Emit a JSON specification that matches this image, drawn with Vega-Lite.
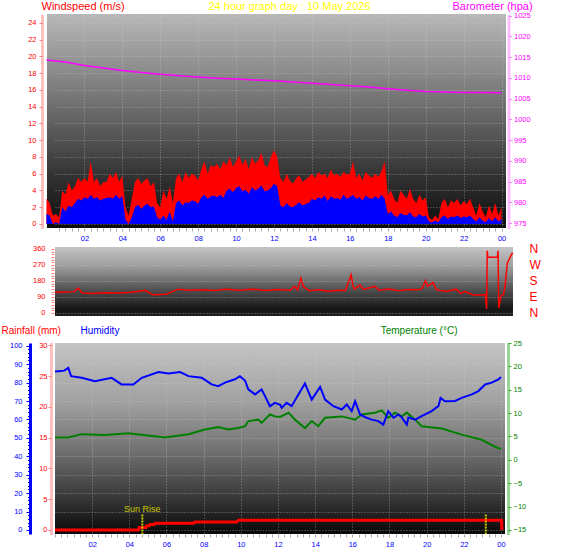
{
"$schema":"https://vega.github.io/schema/vega-lite/v6.json",
"background":"#ffffff",
"padding":{"left":1,"top":0,"right":4,"bottom":4},
"config":{"view":{"stroke":null},"font":"Liberation Sans","axis":{"labelFont":"Liberation Sans","titleFont":"Liberation Sans","labelOverlap":false,"labelFlush":false,"labelBound":false,"titleFontWeight":"normal","titleAngle":0,"titleBaseline":"alphabetic","titleAlign":"left","labelFontSize":7.5}},
"datasets":{
"wind":[{"m":0,"g":3,"a":1.2},{"m":10,"g":2.5,"a":1},{"m":20,"g":1,"a":0},{"m":30,"g":1.2,"a":0.2},{"m":40,"g":0.8,"a":0},{"m":50,"g":4,"a":2},{"m":60,"g":3.5,"a":1.5},{"m":70,"g":5,"a":2.2},{"m":80,"g":4,"a":2},{"m":90,"g":4.5,"a":2.5},{"m":100,"g":5.5,"a":3},{"m":110,"g":5,"a":2.8},{"m":120,"g":5.5,"a":3.2},{"m":130,"g":5,"a":3},{"m":140,"g":7.5,"a":3.5},{"m":150,"g":5,"a":3},{"m":160,"g":5.5,"a":3.2},{"m":170,"g":4.5,"a":2.8},{"m":180,"g":5,"a":3},{"m":190,"g":5,"a":3.1},{"m":200,"g":6,"a":3.2},{"m":210,"g":5.5,"a":3},{"m":220,"g":6.2,"a":3.5},{"m":230,"g":5,"a":3},{"m":240,"g":5.8,"a":3.3},{"m":250,"g":2,"a":0.5},{"m":260,"g":1,"a":0},{"m":270,"g":3,"a":0.8},{"m":280,"g":5,"a":2},{"m":290,"g":5.5,"a":2.3},{"m":300,"g":4.8,"a":1.8},{"m":310,"g":5.2,"a":2.2},{"m":320,"g":5.5,"a":2.4},{"m":330,"g":4.5,"a":2},{"m":340,"g":5,"a":2.1},{"m":350,"g":2.5,"a":0.8},{"m":360,"g":2,"a":0.5},{"m":370,"g":4,"a":1},{"m":380,"g":3,"a":0.5},{"m":390,"g":4.5,"a":1.5},{"m":400,"g":2.5,"a":0.3},{"m":410,"g":5.5,"a":2.5},{"m":420,"g":6,"a":2.8},{"m":430,"g":5,"a":2.2},{"m":440,"g":6.2,"a":2.6},{"m":450,"g":5.5,"a":2.5},{"m":460,"g":6,"a":2.8},{"m":470,"g":5.8,"a":2.7},{"m":480,"g":5.2,"a":2.4},{"m":490,"g":6.5,"a":3.2},{"m":500,"g":7.5,"a":3.5},{"m":510,"g":6,"a":3},{"m":520,"g":7,"a":3.3},{"m":530,"g":6.8,"a":3.4},{"m":540,"g":7.2,"a":3.2},{"m":550,"g":6.5,"a":3.5},{"m":560,"g":7.5,"a":3.1},{"m":570,"g":7,"a":4},{"m":580,"g":8,"a":4.2},{"m":590,"g":6.8,"a":3.8},{"m":600,"g":7.5,"a":4.3},{"m":610,"g":8.2,"a":4.5},{"m":620,"g":7,"a":3.9},{"m":630,"g":7.8,"a":4.1},{"m":640,"g":6.5,"a":3.6},{"m":650,"g":8,"a":4.4},{"m":660,"g":7.2,"a":4},{"m":670,"g":7.6,"a":4.2},{"m":680,"g":8.5,"a":4.6},{"m":690,"g":7,"a":3.9},{"m":700,"g":6.8,"a":4},{"m":710,"g":8,"a":4.3},{"m":720,"g":8.8,"a":4.8},{"m":730,"g":8,"a":4.5},{"m":740,"g":5.5,"a":2.2},{"m":750,"g":5,"a":2},{"m":760,"g":6,"a":2.5},{"m":770,"g":5.2,"a":2.1},{"m":780,"g":4.8,"a":2},{"m":790,"g":5.5,"a":2.3},{"m":800,"g":5.8,"a":2.6},{"m":810,"g":5,"a":2.2},{"m":820,"g":5.3,"a":2.4},{"m":830,"g":5.6,"a":2.5},{"m":840,"g":6,"a":3},{"m":850,"g":5.5,"a":2.8},{"m":860,"g":6.2,"a":3.2},{"m":870,"g":5.8,"a":3},{"m":880,"g":6,"a":3.4},{"m":890,"g":5.5,"a":2.7},{"m":900,"g":6.5,"a":3.3},{"m":910,"g":5.8,"a":3},{"m":920,"g":6,"a":3.1},{"m":930,"g":5.6,"a":2.9},{"m":940,"g":6.2,"a":3.5},{"m":950,"g":5.9,"a":3},{"m":960,"g":6,"a":3.2},{"m":970,"g":7.5,"a":3.5},{"m":980,"g":5.5,"a":3},{"m":990,"g":6,"a":3.2},{"m":1000,"g":5.2,"a":2.8},{"m":1010,"g":6.2,"a":3.4},{"m":1020,"g":5.8,"a":3.1},{"m":1030,"g":5.5,"a":3},{"m":1040,"g":6,"a":3.3},{"m":1050,"g":5.6,"a":3},{"m":1060,"g":6.3,"a":3.5},{"m":1070,"g":7.5,"a":3},{"m":1080,"g":3.5,"a":1.2},{"m":1090,"g":4,"a":1.5},{"m":1100,"g":3,"a":1},{"m":1110,"g":2.5,"a":0.8},{"m":1120,"g":4,"a":1.3},{"m":1130,"g":3.5,"a":1.1},{"m":1140,"g":3,"a":1},{"m":1150,"g":4.2,"a":1.4},{"m":1160,"g":3,"a":0.9},{"m":1170,"g":2.5,"a":0.8},{"m":1180,"g":3.5,"a":1.2},{"m":1190,"g":2.8,"a":0.9},{"m":1200,"g":3.2,"a":1},{"m":1210,"g":0.8,"a":0.3},{"m":1220,"g":0.5,"a":0.2},{"m":1230,"g":1,"a":0.4},{"m":1240,"g":0.6,"a":0.2},{"m":1250,"g":2.5,"a":0.8},{"m":1260,"g":3,"a":1},{"m":1270,"g":2,"a":0.6},{"m":1280,"g":2.8,"a":0.9},{"m":1290,"g":2.5,"a":0.8},{"m":1300,"g":3,"a":1},{"m":1310,"g":2.2,"a":0.7},{"m":1320,"g":2.7,"a":0.9},{"m":1330,"g":2.4,"a":0.8},{"m":1340,"g":3,"a":1},{"m":1350,"g":2,"a":0.6},{"m":1360,"g":1,"a":0.3},{"m":1370,"g":2.5,"a":0.8},{"m":1380,"g":1.5,"a":0.4},{"m":1390,"g":0.8,"a":0.2},{"m":1400,"g":2.2,"a":0.7},{"m":1410,"g":1.2,"a":0.3},{"m":1420,"g":2.5,"a":0.8},{"m":1430,"g":1,"a":0.3},{"m":1440,"g":2,"a":0.6}],
"baro":[{"m":0,"p":1014.3},{"m":60,"p":1013.8},{"m":120,"p":1013.0},{"m":180,"p":1012.4},{"m":240,"p":1011.8},{"m":300,"p":1011.3},{"m":360,"p":1010.9},{"m":420,"p":1010.5},{"m":480,"p":1010.2},{"m":540,"p":1009.9},{"m":600,"p":1009.7},{"m":660,"p":1009.5},{"m":720,"p":1009.3},{"m":780,"p":1009.0},{"m":840,"p":1008.7},{"m":900,"p":1008.4},{"m":960,"p":1008.1},{"m":1020,"p":1007.8},{"m":1080,"p":1007.4},{"m":1140,"p":1007.0},{"m":1200,"p":1006.7},{"m":1260,"p":1006.6},{"m":1320,"p":1006.5},{"m":1380,"p":1006.5},{"m":1440,"p":1006.4}],
"dir":[{"m":0,"d":116},{"m":30,"d":118},{"m":60,"d":120},{"m":73,"d":140},{"m":85,"d":112},{"m":120,"d":110},{"m":160,"d":114},{"m":200,"d":112},{"m":240,"d":116},{"m":284,"d":127},{"m":300,"d":110},{"m":307,"d":103},{"m":350,"d":105},{"m":387,"d":134},{"m":420,"d":128},{"m":467,"d":130},{"m":500,"d":126},{"m":540,"d":133},{"m":580,"d":128},{"m":620,"d":134},{"m":660,"d":126},{"m":700,"d":132},{"m":740,"d":128},{"m":753,"d":150},{"m":763,"d":130},{"m":773,"d":196},{"m":780,"d":150},{"m":787,"d":140},{"m":800,"d":125},{"m":830,"d":130},{"m":860,"d":122},{"m":890,"d":128},{"m":913,"d":127},{"m":931,"d":214},{"m":937,"d":150},{"m":942,"d":134},{"m":959,"d":158},{"m":970,"d":132},{"m":1005,"d":150},{"m":1020,"d":128},{"m":1050,"d":135},{"m":1080,"d":125},{"m":1110,"d":132},{"m":1142,"d":130},{"m":1155,"d":140},{"m":1165,"d":183},{"m":1172,"d":150},{"m":1188,"d":172},{"m":1200,"d":130},{"m":1230,"d":121},{"m":1262,"d":134},{"m":1275,"d":110},{"m":1290,"d":120},{"m":1313,"d":103},{"m":1340,"d":100},{"m":1353,"d":105},{"m":1357,"d":22},{"m":1359,"d":350},{"m":1361,"d":313},{"m":1391,"d":313},{"m":1393,"d":350},{"m":1395,"d":28},{"m":1402,"d":95},{"m":1410,"d":105},{"m":1415,"d":150},{"m":1422,"d":280},{"m":1437,"d":335},{"m":1440,"d":333}],
"rain":[{"m":0,"r":0},{"m":269,"r":0},{"m":272,"r":0.4},{"m":294,"r":0.4},{"m":296,"r":0.7},{"m":305,"r":0.7},{"m":307,"r":0.9},{"m":321,"r":0.9},{"m":323,"r":1.1},{"m":447,"r":1.1},{"m":452,"r":1.3},{"m":587,"r":1.3},{"m":592,"r":1.6},{"m":1442,"r":1.6},{"m":1443,"r":0}],
"hum":[{"m":0,"h":86},{"m":11,"h":86.2},{"m":30,"h":86.5},{"m":43,"h":88},{"m":52,"h":83.5},{"m":86,"h":82.6},{"m":129,"h":80.8},{"m":183,"h":82.6},{"m":215,"h":79},{"m":253,"h":79},{"m":280,"h":82.6},{"m":334,"h":85.7},{"m":366,"h":84.9},{"m":404,"h":85.7},{"m":431,"h":83.5},{"m":474,"h":82.6},{"m":506,"h":79},{"m":527,"h":78.1},{"m":549,"h":80},{"m":581,"h":81.8},{"m":597,"h":83.5},{"m":614,"h":81},{"m":624,"h":76.3},{"m":646,"h":73.6},{"m":667,"h":76.3},{"m":678,"h":72.7},{"m":694,"h":67.2},{"m":710,"h":69},{"m":727,"h":68},{"m":732,"h":66.3},{"m":748,"h":69},{"m":764,"h":67.2},{"m":786,"h":73.6},{"m":807,"h":79.5},{"m":829,"h":70.8},{"m":856,"h":77.7},{"m":872,"h":70.8},{"m":899,"h":67.2},{"m":926,"h":65.4},{"m":942,"h":68.1},{"m":958,"h":64.5},{"m":969,"h":69.9},{"m":985,"h":62.7},{"m":1006,"h":60.9},{"m":1023,"h":59.9},{"m":1044,"h":59.1},{"m":1060,"h":57.2},{"m":1076,"h":64.5},{"m":1093,"h":60.9},{"m":1109,"h":62.7},{"m":1120,"h":61},{"m":1136,"h":57.2},{"m":1141,"h":61},{"m":1163,"h":59.9},{"m":1184,"h":61.8},{"m":1216,"h":64.5},{"m":1238,"h":67.2},{"m":1245,"h":71.7},{"m":1259,"h":69.9},{"m":1292,"h":70},{"m":1313,"h":71.7},{"m":1346,"h":73.6},{"m":1367,"h":75.4},{"m":1389,"h":79},{"m":1410,"h":80},{"m":1432,"h":81.7},{"m":1440,"h":83}],
"temp":[{"m":0,"t":4.8},{"m":43,"t":4.8},{"m":86,"t":5.5},{"m":161,"t":5.3},{"m":237,"t":5.7},{"m":355,"t":4.8},{"m":431,"t":5.5},{"m":484,"t":6.5},{"m":527,"t":7},{"m":560,"t":6.5},{"m":592,"t":6.8},{"m":614,"t":7.2},{"m":624,"t":8.3},{"m":657,"t":8.6},{"m":667,"t":7.9},{"m":694,"t":9.7},{"m":710,"t":9.3},{"m":727,"t":9.2},{"m":754,"t":10.1},{"m":775,"t":8.6},{"m":807,"t":6.8},{"m":829,"t":8.3},{"m":850,"t":7.2},{"m":872,"t":9},{"m":926,"t":9.3},{"m":969,"t":8.6},{"m":990,"t":9.7},{"m":1033,"t":10.1},{"m":1055,"t":10.6},{"m":1076,"t":9},{"m":1098,"t":10.1},{"m":1120,"t":9.3},{"m":1136,"t":10.1},{"m":1163,"t":8.6},{"m":1184,"t":7.2},{"m":1249,"t":6.7},{"m":1313,"t":5.4},{"m":1378,"t":4.3},{"m":1421,"t":2.8},{"m":1440,"t":2.3}],
"sun":[{"m":282,"label":"Sun Rise"},{"m":1391,"label":""}]
},
"vconcat":[
{
"width":451,"height":214,
"view":{"fill":{"gradient":"linear","x1":0,"y1":0,"x2":0,"y2":1,"stops":[{"offset":0,"color":"#b8b8b8"},{"offset":0.25,"color":"#8e8e8e"},{"offset":0.5,"color":"#626262"},{"offset":0.75,"color":"#343434"},{"offset":1,"color":"#0c0c0c"}]},"stroke":null},
"layer":[
{"layer":[
{"data":{"values":[{"part":"edge"}]},
"mark":{"type":"rect","fill":{"gradient":"linear","x1":0,"y1":0,"x2":0,"y2":1,"stops":[{"offset":0,"color":"#b8b8b8"},{"offset":0.25,"color":"#8e8e8e"},{"offset":0.5,"color":"#626262"},{"offset":0.75,"color":"#343434"},{"offset":1,"color":"#0c0c0c"}]}},
"encoding":{"x":{"datum":1.6,"type":"quantitative","scale":{"domain":[27,1454],"nice":false,"zero":false},"axis":null},"x2":{"datum":27},"y":{"datum":-0.48,"type":"quantitative","scale":{"domain":[-0.48,25.07],"nice":false,"zero":false},"axis":null},"y2":{"datum":25.07}}},
{"data":{"name":"wind"},
"mark":{"type":"area","color":"#ff0000","interpolate":"linear"},
"encoding":{
"x":{"field":"m","type":"quantitative","scale":{"domain":[27,1454],"nice":false,"zero":false},
"axis":{"orient":"bottom","values":[0,20,40,60,80,100,120,140,160,180,200,220,240,260,280,300,320,340,360,380,400,420,440,460,480,500,520,540,560,580,600,620,640,660,680,700,720,740,760,780,800,820,840,860,880,900,920,940,960,980,1000,1020,1040,1060,1080,1100,1120,1140,1160,1180,1200,1220,1240,1260,1280,1300,1320,1340,1360,1380,1400,1420,1440],"labelExpr":"datum.value % 120 == 0 && datum.value > 0 ? format((datum.value/60) % 24, '02d') : ''","labelOverlap":false,"title":null,"grid":false,"domain":false,"tickColor":"#a8a8a8","tickSize":3,"labelColor":"#0000ff","labelPadding":3}},
"y":{"field":"g","type":"quantitative","scale":{"domain":[-0.48,25.07],"nice":false,"zero":false},
"axis":{"orient":"left","values":[0,2,4,6,8,10,12,14,16,18,20,22,24],"labelOverlap":false,"offset":13,"title":"Windspeed (m/s)","titleColor":"#ff0000","titleFontSize":11,"titleX":-1,"titleY":-4.5,"labelColor":"#ff0000","labelPadding":3,"tickColor":"#ff8080","tickSize":3,"domainColor":"#ff8080","domainWidth":3,"domainDash":[1,1],"grid":true,"gridColor":"#d0d0d0","gridDash":[1,2],"gridOpacity":0.5}}}},
{"data":{"name":"wind"},
"mark":{"type":"area","color":"#0000ff","interpolate":"linear"},
"encoding":{
"x":{"field":"m","type":"quantitative","scale":{"domain":[27,1454],"nice":false,"zero":false},"axis":null},
"y":{"field":"a","type":"quantitative","scale":{"domain":[-0.48,25.07],"nice":false,"zero":false},"axis":null}}}
],
"resolve":{"axis":{"x":"independent","y":"independent"}}},
{"data":{"name":"baro"},
"mark":{"type":"line","color":"#ff00ff","strokeWidth":1.5},
"encoding":{
"x":{"field":"m","type":"quantitative","scale":{"domain":[27,1454],"nice":false,"zero":false},"axis":{"orient":"top","values":[120,240,360,480,600,720,840,960,1080,1200,1320,1440],"grid":true,"gridColor":"#d0d0d0","gridDash":[1,2],"gridOpacity":0.5,"labels":false,"ticks":false,"domain":false,"title":"24 hour graph day : 10 May 2026","titleColor":"#ffff00","titleFontSize":11,"titleAlign":"center","titleX":234,"titleY":-4.5}},
"y":{"field":"p","type":"quantitative","scale":{"domain":[973.8,1025.4],"nice":false,"zero":false},
"axis":{"orient":"right","values":[975,980,985,990,995,1000,1005,1010,1015,1020,1025],"format":"d","labelOverlap":false,"offset":2.5,"title":"Barometer (hpa)","titleColor":"#ff00ff","titleFontSize":11,"titleX":-56.5,"titleY":-4.5,"labelColor":"#ff00ff","labelPadding":2,"tickColor":"#ff80ff","tickSize":3,"domainColor":"#ff80ff","domainWidth":3,"domainDash":[1,1],"grid":false}}}}
],
"resolve":{"scale":{"y":"independent"},"axis":{"x":"independent"}}
},
{
"width":458,"height":77,
"view":{"stroke":null},
"layer":[
{"data":{"values":[{"part":"panel"}]},
"mark":{"type":"rect","fill":{"gradient":"linear","x1":0,"y1":0,"x2":0,"y2":1,"stops":[{"offset":0,"color":"#c4c4c4"},{"offset":0.3,"color":"#9a9a9a"},{"offset":0.6,"color":"#555555"},{"offset":0.9,"color":"#151515"},{"offset":1,"color":"#202020"}]}},
"encoding":{"x":{"datum":0,"type":"quantitative","scale":{"domain":[0,1440],"nice":false,"zero":false},"axis":null},"x2":{"datum":1440},"y":{"datum":-17,"type":"quantitative","scale":{"domain":[-62,371],"nice":false,"zero":false},"axis":null},"y2":{"datum":371}}},
{"data":{"name":"dir"},
"mark":{"type":"line","color":"#ff0000","strokeWidth":1.5},
"encoding":{
"x":{"field":"m","type":"quantitative","scale":{"domain":[0,1440],"nice":false,"zero":false},"axis":null},
"y":{"field":"d","type":"quantitative","scale":{"domain":[-62,371],"nice":false,"zero":false},
"axis":{"orient":"left","values":[0,15,30,45,60,75,90,105,120,135,150,165,180,195,210,225,240,255,270,285,300,315,330,345,360],"labelExpr":"datum.value % 90 == 0 ? datum.label : ''","labelOverlap":false,"offset":1,"domain":false,"tickColor":"#ff8080","tickSize":3,"labelColor":"#ff0000","labelPadding":6,"title":null,"grid":false,"zindex":1}}}},
{"data":{"name":"dir"},
"mark":{"type":"line","color":"#ff0000","strokeOpacity":0},
"encoding":{
"x":{"field":"m","type":"quantitative","scale":{"domain":[0,1440],"nice":false,"zero":false},"axis":null},
"y":{"field":"d","type":"quantitative","scale":{"domain":[-62,371],"nice":false,"zero":false},
"axis":{"orient":"right","values":[0,90,180,270,360],"labelExpr":"datum.value == 270 ? 'W' : datum.value == 180 ? 'S' : datum.value == 90 ? 'E' : 'N'","labelOverlap":false,"ticks":false,"domain":false,"labelColor":"#ff0000","labelFontSize":12,"labelPadding":16,"title":null,"grid":true,"gridColor":"#d0d0d0","gridDash":[1,2],"gridOpacity":0.5,"zindex":1}}}}
],
"resolve":{"axis":{"y":"independent"}}
},
{
"width":450,"height":191,
"view":{"fill":{"gradient":"linear","x1":0,"y1":0,"x2":0,"y2":1,"stops":[{"offset":0,"color":"#c4c4c4"},{"offset":0.3,"color":"#a2a2a2"},{"offset":0.55,"color":"#747474"},{"offset":0.8,"color":"#3a3a3a"},{"offset":1,"color":"#080808"}]},"stroke":null},
"layer":[
{"layer":[
{"data":{"name":"rain"},
"mark":{"type":"line","color":"#ff0000","strokeWidth":3},
"encoding":{
"x":{"field":"m","type":"quantitative","scale":{"domain":[0,1453],"nice":false,"zero":false},
"axis":{"orient":"bottom","values":[0,20,40,60,80,100,120,140,160,180,200,220,240,260,280,300,320,340,360,380,400,420,440,460,480,500,520,540,560,580,600,620,640,660,680,700,720,740,760,780,800,820,840,860,880,900,920,940,960,980,1000,1020,1040,1060,1080,1100,1120,1140,1160,1180,1200,1220,1240,1260,1280,1300,1320,1340,1360,1380,1400,1420,1440],"labelExpr":"datum.value % 120 == 0 && datum.value > 0 ? format((datum.value/60) % 24, '02d') : ''","labelOverlap":false,"title":null,"grid":false,"domain":false,"tickColor":"#a8a8a8","tickSize":3,"labelColor":"#0000ff","labelPadding":3}},
"y":{"field":"r","type":"quantitative","scale":{"domain":[-0.65,30.38],"nice":false,"zero":false},
"axis":{"orient":"left","values":[0,5,10,15,20,25,30],"labelOverlap":false,"offset":4,"title":"Rainfall (mm)","titleColor":"#ff0000","titleFontSize":10,"titleX":-50,"titleY":-10,"labelColor":"#ff0000","labelPadding":1,"tickColor":"#ff8080","tickSize":3,"domainColor":"#ff8080","domainWidth":3,"domainDash":[1,1],"grid":false}}}},
{"data":{"name":"sun"},
"mark":{"type":"rule","color":"#c8c800","strokeWidth":2,"strokeDash":[2,1]},
"encoding":{
"x":{"field":"m","type":"quantitative","scale":{"domain":[0,1453],"nice":false,"zero":false},"axis":null},
"y":{"datum":2.5,"type":"quantitative","scale":{"domain":[-0.65,30.38],"nice":false,"zero":false},"axis":null},
"y2":{"datum":-0.65}}},
{"data":{"name":"sun"},
"mark":{"type":"text","color":"#c8c800","font":"Liberation Sans","fontSize":9,"baseline":"middle","align":"center"},
"encoding":{
"x":{"field":"m","type":"quantitative","scale":{"domain":[0,1453],"nice":false,"zero":false},"axis":null},
"y":{"datum":3.4,"type":"quantitative","scale":{"domain":[-0.65,30.38],"nice":false,"zero":false},"axis":null},
"text":{"field":"label"}}}
],
"resolve":{"axis":{"x":"independent","y":"independent"}}},
{"data":{"name":"temp"},
"mark":{"type":"line","color":"#008000","strokeWidth":2},
"encoding":{
"x":{"field":"m","type":"quantitative","scale":{"domain":[0,1453],"nice":false,"zero":false},"axis":{"orient":"bottom","values":[120,240,360,480,600,720,840,960,1080,1200,1320,1440],"grid":true,"gridColor":"#d0d0d0","gridDash":[1,2],"gridOpacity":0.5,"labels":false,"ticks":false,"domain":false,"title":null}},
"y":{"field":"t","type":"quantitative","scale":{"domain":[-15.86,25.0],"nice":false,"zero":false},
"axis":{"orient":"right","values":[-15,-10,-5,0,5,10,15,20,25],"labelOverlap":false,"offset":3,"title":"Temperature (°C)","titleColor":"#008000","titleFontSize":10,"titleAlign":"right","titleX":-51,"titleY":-10,"labelColor":"#008000","labelPadding":2,"tickColor":"#33aa33","tickSize":3,"domainColor":"#33aa33","domainWidth":3,"domainDash":[1,1],"grid":false}}}},
{"layer":[
{"data":{"name":"hum"},
"mark":{"type":"line","color":"#0000ff","strokeWidth":2},
"encoding":{
"x":{"field":"m","type":"quantitative","scale":{"domain":[0,1453],"nice":false,"zero":false},"axis":null},
"y":{"field":"h","type":"quantitative","scale":{"domain":[-2.2,101.5],"nice":false,"zero":false},
"axis":{"orient":"left","offset":25,"values":[0,10,20,30,40,50,60,70,80,90,100],"labelOverlap":false,"title":"Humidity","titleColor":"#0000ff","titleFontSize":10,"titleX":50,"titleY":-10,"labelColor":"#0000ff","labelPadding":4,"tickColor":"#0000ff","tickSize":4,"domainColor":"#0000ff","domainWidth":3,"grid":true,"gridColor":"#d0d0d0","gridDash":[1,2],"gridOpacity":0.5}}}},
{"data":{"name":"hum"},
"mark":{"type":"line","color":"#0000ff","strokeOpacity":0},
"encoding":{
"x":{"field":"m","type":"quantitative","scale":{"domain":[0,1453],"nice":false,"zero":false},"axis":null},
"y":{"field":"h","type":"quantitative","scale":{"domain":[-2.2,101.5],"nice":false,"zero":false},
"axis":{"orient":"left","offset":25,"values":[0,2,4,6,8,10,12,14,16,18,20,22,24,26,28,30,32,34,36,38,40,42,44,46,48,50,52,54,56,58,60,62,64,66,68,70,72,74,76,78,80,82,84,86,88,90,92,94,96,98,100],"labels":false,"tickColor":"#0000ff","tickSize":2.5,"domain":false,"grid":false,"title":null}}}}
],
"resolve":{"axis":{"y":"independent"}}}
],
"resolve":{"scale":{"y":"independent"},"axis":{"x":"independent"}}
}
],
"spacing":19,
"bounds":"flush"
}
